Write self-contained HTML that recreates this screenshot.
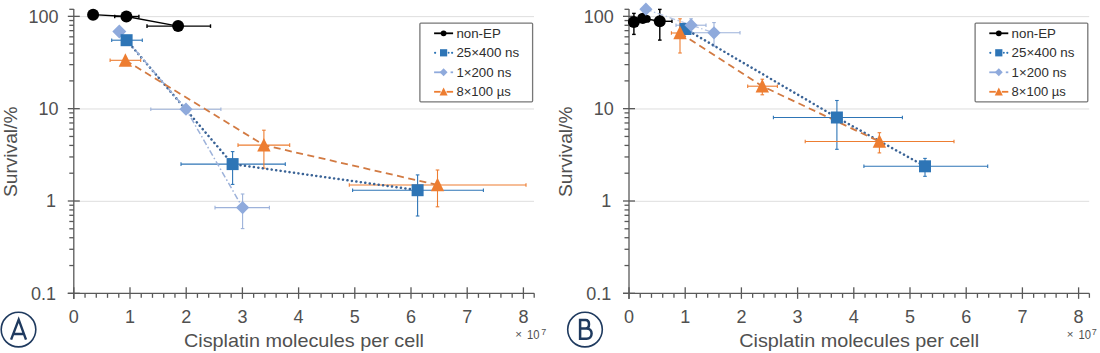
<!DOCTYPE html>
<html><head><meta charset="utf-8"><style>
html,body{margin:0;padding:0;background:#fff;width:1100px;height:353px;overflow:hidden}
svg{display:block;font-family:"Liberation Sans",sans-serif}
</style></head><body>
<svg width="1100" height="353" viewBox="0 0 1100 353">
<line x1="74.80" y1="16.64" x2="534.00" y2="16.64" stroke="#dedede" stroke-width="1"/>
<line x1="74.80" y1="108.97" x2="534.00" y2="108.97" stroke="#dedede" stroke-width="1"/>
<line x1="74.80" y1="201.30" x2="534.00" y2="201.30" stroke="#dedede" stroke-width="1"/>
<line x1="73.80" y1="9.1" x2="73.80" y2="299" stroke="#595959" stroke-width="1.3"/>
<line x1="69.30" y1="9.3" x2="73.80" y2="9.3" stroke="#595959" stroke-width="1.3"/>
<line x1="69.30" y1="265.54" x2="73.80" y2="265.54" stroke="#595959" stroke-width="1.3"/>
<line x1="69.30" y1="249.28" x2="73.80" y2="249.28" stroke="#595959" stroke-width="1.3"/>
<line x1="69.30" y1="237.74" x2="73.80" y2="237.74" stroke="#595959" stroke-width="1.3"/>
<line x1="69.30" y1="228.79" x2="73.80" y2="228.79" stroke="#595959" stroke-width="1.3"/>
<line x1="69.30" y1="221.48" x2="73.80" y2="221.48" stroke="#595959" stroke-width="1.3"/>
<line x1="69.30" y1="215.30" x2="73.80" y2="215.30" stroke="#595959" stroke-width="1.3"/>
<line x1="69.30" y1="209.95" x2="73.80" y2="209.95" stroke="#595959" stroke-width="1.3"/>
<line x1="69.30" y1="205.22" x2="73.80" y2="205.22" stroke="#595959" stroke-width="1.3"/>
<line x1="69.30" y1="173.21" x2="73.80" y2="173.21" stroke="#595959" stroke-width="1.3"/>
<line x1="69.30" y1="156.95" x2="73.80" y2="156.95" stroke="#595959" stroke-width="1.3"/>
<line x1="69.30" y1="145.41" x2="73.80" y2="145.41" stroke="#595959" stroke-width="1.3"/>
<line x1="69.30" y1="136.46" x2="73.80" y2="136.46" stroke="#595959" stroke-width="1.3"/>
<line x1="69.30" y1="129.15" x2="73.80" y2="129.15" stroke="#595959" stroke-width="1.3"/>
<line x1="69.30" y1="122.97" x2="73.80" y2="122.97" stroke="#595959" stroke-width="1.3"/>
<line x1="69.30" y1="117.62" x2="73.80" y2="117.62" stroke="#595959" stroke-width="1.3"/>
<line x1="69.30" y1="112.89" x2="73.80" y2="112.89" stroke="#595959" stroke-width="1.3"/>
<line x1="69.30" y1="80.88" x2="73.80" y2="80.88" stroke="#595959" stroke-width="1.3"/>
<line x1="69.30" y1="64.62" x2="73.80" y2="64.62" stroke="#595959" stroke-width="1.3"/>
<line x1="69.30" y1="53.08" x2="73.80" y2="53.08" stroke="#595959" stroke-width="1.3"/>
<line x1="69.30" y1="44.13" x2="73.80" y2="44.13" stroke="#595959" stroke-width="1.3"/>
<line x1="69.30" y1="36.82" x2="73.80" y2="36.82" stroke="#595959" stroke-width="1.3"/>
<line x1="69.30" y1="30.64" x2="73.80" y2="30.64" stroke="#595959" stroke-width="1.3"/>
<line x1="69.30" y1="25.29" x2="73.80" y2="25.29" stroke="#595959" stroke-width="1.3"/>
<line x1="69.30" y1="20.56" x2="73.80" y2="20.56" stroke="#595959" stroke-width="1.3"/>
<line x1="67.80" y1="16.34" x2="79.80" y2="16.34" stroke="#595959" stroke-width="1.3"/>
<line x1="67.80" y1="108.67" x2="79.80" y2="108.67" stroke="#595959" stroke-width="1.3"/>
<line x1="67.80" y1="201.00" x2="79.80" y2="201.00" stroke="#595959" stroke-width="1.3"/>
<line x1="67.80" y1="293.33" x2="79.80" y2="293.33" stroke="#595959" stroke-width="1.3"/>
<line x1="67.80" y1="293.33" x2="534.20" y2="293.33" stroke="#595959" stroke-width="1.3"/>
<line x1="73.80" y1="287.33" x2="73.80" y2="298.83" stroke="#595959" stroke-width="1.3"/>
<line x1="85.04" y1="293.33" x2="85.04" y2="297.83" stroke="#595959" stroke-width="1.3"/>
<line x1="96.28" y1="293.33" x2="96.28" y2="297.83" stroke="#595959" stroke-width="1.3"/>
<line x1="107.52" y1="293.33" x2="107.52" y2="297.83" stroke="#595959" stroke-width="1.3"/>
<line x1="118.76" y1="293.33" x2="118.76" y2="297.83" stroke="#595959" stroke-width="1.3"/>
<line x1="130.00" y1="287.33" x2="130.00" y2="298.83" stroke="#595959" stroke-width="1.3"/>
<line x1="141.24" y1="293.33" x2="141.24" y2="297.83" stroke="#595959" stroke-width="1.3"/>
<line x1="152.48" y1="293.33" x2="152.48" y2="297.83" stroke="#595959" stroke-width="1.3"/>
<line x1="163.72" y1="293.33" x2="163.72" y2="297.83" stroke="#595959" stroke-width="1.3"/>
<line x1="174.96" y1="293.33" x2="174.96" y2="297.83" stroke="#595959" stroke-width="1.3"/>
<line x1="186.20" y1="287.33" x2="186.20" y2="298.83" stroke="#595959" stroke-width="1.3"/>
<line x1="197.44" y1="293.33" x2="197.44" y2="297.83" stroke="#595959" stroke-width="1.3"/>
<line x1="208.68" y1="293.33" x2="208.68" y2="297.83" stroke="#595959" stroke-width="1.3"/>
<line x1="219.92" y1="293.33" x2="219.92" y2="297.83" stroke="#595959" stroke-width="1.3"/>
<line x1="231.16" y1="293.33" x2="231.16" y2="297.83" stroke="#595959" stroke-width="1.3"/>
<line x1="242.40" y1="287.33" x2="242.40" y2="298.83" stroke="#595959" stroke-width="1.3"/>
<line x1="253.64" y1="293.33" x2="253.64" y2="297.83" stroke="#595959" stroke-width="1.3"/>
<line x1="264.88" y1="293.33" x2="264.88" y2="297.83" stroke="#595959" stroke-width="1.3"/>
<line x1="276.12" y1="293.33" x2="276.12" y2="297.83" stroke="#595959" stroke-width="1.3"/>
<line x1="287.36" y1="293.33" x2="287.36" y2="297.83" stroke="#595959" stroke-width="1.3"/>
<line x1="298.60" y1="287.33" x2="298.60" y2="298.83" stroke="#595959" stroke-width="1.3"/>
<line x1="309.84" y1="293.33" x2="309.84" y2="297.83" stroke="#595959" stroke-width="1.3"/>
<line x1="321.08" y1="293.33" x2="321.08" y2="297.83" stroke="#595959" stroke-width="1.3"/>
<line x1="332.32" y1="293.33" x2="332.32" y2="297.83" stroke="#595959" stroke-width="1.3"/>
<line x1="343.56" y1="293.33" x2="343.56" y2="297.83" stroke="#595959" stroke-width="1.3"/>
<line x1="354.80" y1="287.33" x2="354.80" y2="298.83" stroke="#595959" stroke-width="1.3"/>
<line x1="366.04" y1="293.33" x2="366.04" y2="297.83" stroke="#595959" stroke-width="1.3"/>
<line x1="377.28" y1="293.33" x2="377.28" y2="297.83" stroke="#595959" stroke-width="1.3"/>
<line x1="388.52" y1="293.33" x2="388.52" y2="297.83" stroke="#595959" stroke-width="1.3"/>
<line x1="399.76" y1="293.33" x2="399.76" y2="297.83" stroke="#595959" stroke-width="1.3"/>
<line x1="411.00" y1="287.33" x2="411.00" y2="298.83" stroke="#595959" stroke-width="1.3"/>
<line x1="422.24" y1="293.33" x2="422.24" y2="297.83" stroke="#595959" stroke-width="1.3"/>
<line x1="433.48" y1="293.33" x2="433.48" y2="297.83" stroke="#595959" stroke-width="1.3"/>
<line x1="444.72" y1="293.33" x2="444.72" y2="297.83" stroke="#595959" stroke-width="1.3"/>
<line x1="455.96" y1="293.33" x2="455.96" y2="297.83" stroke="#595959" stroke-width="1.3"/>
<line x1="467.20" y1="287.33" x2="467.20" y2="298.83" stroke="#595959" stroke-width="1.3"/>
<line x1="478.44" y1="293.33" x2="478.44" y2="297.83" stroke="#595959" stroke-width="1.3"/>
<line x1="489.68" y1="293.33" x2="489.68" y2="297.83" stroke="#595959" stroke-width="1.3"/>
<line x1="500.92" y1="293.33" x2="500.92" y2="297.83" stroke="#595959" stroke-width="1.3"/>
<line x1="512.16" y1="293.33" x2="512.16" y2="297.83" stroke="#595959" stroke-width="1.3"/>
<line x1="523.40" y1="287.33" x2="523.40" y2="298.83" stroke="#595959" stroke-width="1.3"/>
<line x1="534.20" y1="293.33" x2="534.20" y2="297.83" stroke="#595959" stroke-width="1.3"/>
<text x="58.50" y="22.64" text-anchor="end" font-size="18" fill="#505050">100</text>
<text x="58.50" y="114.97" text-anchor="end" font-size="18" fill="#505050">10</text>
<text x="56.00" y="207.30" text-anchor="end" font-size="18" fill="#505050">1</text>
<text x="56.00" y="299.63" text-anchor="end" font-size="18" fill="#505050">0.1</text>
<text x="73.80" y="322.5" text-anchor="middle" font-size="18" fill="#505050">0</text>
<text x="130.00" y="322.5" text-anchor="middle" font-size="18" fill="#505050">1</text>
<text x="186.20" y="322.5" text-anchor="middle" font-size="18" fill="#505050">2</text>
<text x="242.40" y="322.5" text-anchor="middle" font-size="18" fill="#505050">3</text>
<text x="298.60" y="322.5" text-anchor="middle" font-size="18" fill="#505050">4</text>
<text x="354.80" y="322.5" text-anchor="middle" font-size="18" fill="#505050">5</text>
<text x="411.00" y="322.5" text-anchor="middle" font-size="18" fill="#505050">6</text>
<text x="467.20" y="322.5" text-anchor="middle" font-size="18" fill="#505050">7</text>
<text x="523.40" y="322.5" text-anchor="middle" font-size="18" fill="#505050">8</text>
<text x="184.00" y="347" font-size="19" fill="#505050" textLength="240" lengthAdjust="spacingAndGlyphs">Cisplatin molecules per cell</text>
<text x="515.30" y="338.2" font-size="11.5" fill="#505050">×</text>
<text x="527.00" y="339.2" font-size="13.2" fill="#505050" textLength="12.5" lengthAdjust="spacingAndGlyphs">10</text>
<text x="541.20" y="335" font-size="9" fill="#505050">7</text>
<text transform="translate(16.60,151.8) rotate(-90)" text-anchor="middle" font-size="17.5" fill="#505050" textLength="90.5" lengthAdjust="spacingAndGlyphs">Survival/%</text>
<circle cx="18.5" cy="329.6" r="17.3" fill="none" stroke="#1f3a5f" stroke-width="1.6"/>
<path d="M11.1,339.6 L18.7,319.6 L26.0,339.6 M14.0,334 H23.4" fill="none" stroke="#1f3a5f" stroke-width="2.4" stroke-linejoin="miter" stroke-miterlimit="10"/>
<line x1="114.70" y1="16.50" x2="138.90" y2="16.50" stroke="#000000" stroke-width="1.4"/>
<line x1="114.70" y1="14.70" x2="114.70" y2="18.30" stroke="#000000" stroke-width="1.4"/>
<line x1="138.90" y1="14.70" x2="138.90" y2="18.30" stroke="#000000" stroke-width="1.4"/>
<line x1="147.00" y1="26.10" x2="210.50" y2="26.10" stroke="#000000" stroke-width="1.4"/>
<line x1="147.00" y1="24.30" x2="147.00" y2="27.90" stroke="#000000" stroke-width="1.4"/>
<line x1="210.50" y1="24.30" x2="210.50" y2="27.90" stroke="#000000" stroke-width="1.4"/>
<line x1="111.70" y1="40.20" x2="142.30" y2="40.20" stroke="#2e75b6" stroke-width="1.1"/>
<line x1="111.70" y1="38.40" x2="111.70" y2="42.00" stroke="#2e75b6" stroke-width="1.1"/>
<line x1="142.30" y1="38.40" x2="142.30" y2="42.00" stroke="#2e75b6" stroke-width="1.1"/>
<line x1="181.00" y1="164.10" x2="285.30" y2="164.10" stroke="#2e75b6" stroke-width="1.1"/>
<line x1="181.00" y1="162.30" x2="181.00" y2="165.90" stroke="#2e75b6" stroke-width="1.1"/>
<line x1="285.30" y1="162.30" x2="285.30" y2="165.90" stroke="#2e75b6" stroke-width="1.1"/>
<line x1="232.60" y1="151.60" x2="232.60" y2="184.40" stroke="#2e75b6" stroke-width="1.1"/>
<line x1="230.80" y1="151.60" x2="234.40" y2="151.60" stroke="#2e75b6" stroke-width="1.1"/>
<line x1="230.80" y1="184.40" x2="234.40" y2="184.40" stroke="#2e75b6" stroke-width="1.1"/>
<line x1="352.60" y1="190.20" x2="483.40" y2="190.20" stroke="#2e75b6" stroke-width="1.1"/>
<line x1="352.60" y1="188.40" x2="352.60" y2="192.00" stroke="#2e75b6" stroke-width="1.1"/>
<line x1="483.40" y1="188.40" x2="483.40" y2="192.00" stroke="#2e75b6" stroke-width="1.1"/>
<line x1="417.60" y1="174.90" x2="417.60" y2="216.00" stroke="#2e75b6" stroke-width="1.1"/>
<line x1="415.80" y1="174.90" x2="419.40" y2="174.90" stroke="#2e75b6" stroke-width="1.1"/>
<line x1="415.80" y1="216.00" x2="419.40" y2="216.00" stroke="#2e75b6" stroke-width="1.1"/>
<line x1="150.80" y1="109.20" x2="220.90" y2="109.20" stroke="#9db2da" stroke-width="1.1"/>
<line x1="150.80" y1="107.40" x2="150.80" y2="111.00" stroke="#9db2da" stroke-width="1.1"/>
<line x1="220.90" y1="107.40" x2="220.90" y2="111.00" stroke="#9db2da" stroke-width="1.1"/>
<line x1="215.00" y1="207.60" x2="269.40" y2="207.60" stroke="#9db2da" stroke-width="1.1"/>
<line x1="215.00" y1="205.80" x2="215.00" y2="209.40" stroke="#9db2da" stroke-width="1.1"/>
<line x1="269.40" y1="205.80" x2="269.40" y2="209.40" stroke="#9db2da" stroke-width="1.1"/>
<line x1="242.60" y1="194.00" x2="242.60" y2="228.60" stroke="#9db2da" stroke-width="1.1"/>
<line x1="240.80" y1="194.00" x2="244.40" y2="194.00" stroke="#9db2da" stroke-width="1.1"/>
<line x1="240.80" y1="228.60" x2="244.40" y2="228.60" stroke="#9db2da" stroke-width="1.1"/>
<line x1="110.10" y1="60.30" x2="140.70" y2="60.30" stroke="#ed7d31" stroke-width="1.1"/>
<line x1="110.10" y1="58.50" x2="110.10" y2="62.10" stroke="#ed7d31" stroke-width="1.1"/>
<line x1="140.70" y1="58.50" x2="140.70" y2="62.10" stroke="#ed7d31" stroke-width="1.1"/>
<line x1="238.00" y1="145.10" x2="289.70" y2="145.10" stroke="#ed7d31" stroke-width="1.1"/>
<line x1="238.00" y1="143.30" x2="238.00" y2="146.90" stroke="#ed7d31" stroke-width="1.1"/>
<line x1="289.70" y1="143.30" x2="289.70" y2="146.90" stroke="#ed7d31" stroke-width="1.1"/>
<line x1="263.90" y1="130.20" x2="263.90" y2="168.20" stroke="#ed7d31" stroke-width="1.1"/>
<line x1="262.10" y1="130.20" x2="265.70" y2="130.20" stroke="#ed7d31" stroke-width="1.1"/>
<line x1="262.10" y1="168.20" x2="265.70" y2="168.20" stroke="#ed7d31" stroke-width="1.1"/>
<line x1="349.30" y1="185.00" x2="526.00" y2="185.00" stroke="#ed7d31" stroke-width="1.1"/>
<line x1="349.30" y1="183.20" x2="349.30" y2="186.80" stroke="#ed7d31" stroke-width="1.1"/>
<line x1="526.00" y1="183.20" x2="526.00" y2="186.80" stroke="#ed7d31" stroke-width="1.1"/>
<line x1="437.50" y1="170.00" x2="437.50" y2="206.80" stroke="#ed7d31" stroke-width="1.1"/>
<line x1="435.70" y1="170.00" x2="439.30" y2="170.00" stroke="#ed7d31" stroke-width="1.1"/>
<line x1="435.70" y1="206.80" x2="439.30" y2="206.80" stroke="#ed7d31" stroke-width="1.1"/>
<polyline points="93.10,14.70 126.40,16.50 178.10,26.10" fill="none" stroke="#000000" stroke-width="1.3"/>
<polyline points="126.60,40.20 232.60,164.10 417.60,190.20" fill="none" stroke="#3a6396" stroke-width="2.5" stroke-dasharray="0.1 4.4" stroke-linecap="round"/>
<polyline points="119.30,31.50 186.00,109.20 242.60,207.60" fill="none" stroke="#9db2da" stroke-width="1.5" stroke-dasharray="6 2.5 1.5 2.5"/>
<polyline points="125.40,60.30 263.90,145.10 437.50,185.00" fill="none" stroke="#d27a42" stroke-width="1.8" stroke-dasharray="7 4.5"/>
<circle cx="93.10" cy="14.70" r="6.00" fill="#000000"/>
<circle cx="126.40" cy="16.50" r="6.00" fill="#000000"/>
<circle cx="178.10" cy="26.10" r="6.00" fill="#000000"/>
<polygon points="119.30,24.50 126.30,31.50 119.30,38.50 112.30,31.50" fill="#8faadc"/>
<polygon points="186.00,102.60 192.60,109.20 186.00,115.80 179.40,109.20" fill="#8faadc"/>
<polygon points="242.60,201.00 249.20,207.60 242.60,214.20 236.00,207.60" fill="#8faadc"/>
<rect x="120.60" y="34.20" width="12.00" height="12.00" fill="#2e75b6"/>
<rect x="226.60" y="158.10" width="12.00" height="12.00" fill="#2e75b6"/>
<rect x="411.60" y="184.20" width="12.00" height="12.00" fill="#2e75b6"/>
<polygon points="125.40,53.13 132.10,66.66 118.70,66.66" fill="#ed7d31"/>
<polygon points="263.90,137.93 270.60,151.47 257.20,151.47" fill="#ed7d31"/>
<polygon points="437.50,177.83 444.20,191.37 430.80,191.37" fill="#ed7d31"/>
<rect x="419.90" y="23.10" width="112.7" height="78.7" rx="1" fill="#fff" stroke="#777" stroke-width="1.3"/>
<line x1="434.10" y1="33.30" x2="453.10" y2="33.30" stroke="#000000" stroke-width="1.8"/>
<circle cx="443.60" cy="33.30" r="2.88" fill="#000000"/>
<text x="456.40" y="37.60" font-size="12.5" fill="#2e2e2e" textLength="44.4" lengthAdjust="spacingAndGlyphs">non-EP</text>
<circle cx="435.10" cy="52.80" r="1.1" fill="#2e75b6"/>
<circle cx="452.10" cy="52.80" r="1.1" fill="#2e75b6"/>
<circle cx="448.60" cy="52.80" r="1.0" fill="#2e75b6"/>
<rect x="440.00" y="49.20" width="7.20" height="7.20" fill="#2e75b6"/>
<text x="456.40" y="57.10" font-size="12.5" fill="#2e2e2e" textLength="62.8" lengthAdjust="spacingAndGlyphs">25×400 ns</text>
<line x1="434.10" y1="72.30" x2="441.10" y2="72.30" stroke="#8faadc" stroke-width="1.8"/>
<line x1="450.60" y1="72.30" x2="453.10" y2="72.30" stroke="#8faadc" stroke-width="1.8"/>
<polygon points="443.60,68.34 447.56,72.30 443.60,76.26 439.64,72.30" fill="#8faadc"/>
<text x="456.40" y="76.60" font-size="12.5" fill="#2e2e2e" textLength="54.9" lengthAdjust="spacingAndGlyphs">1×200 ns</text>
<line x1="434.10" y1="91.80" x2="440.60" y2="91.80" stroke="#ed7d31" stroke-width="1.8"/>
<line x1="446.60" y1="91.80" x2="453.10" y2="91.80" stroke="#ed7d31" stroke-width="1.8"/>
<polygon points="443.60,87.50 447.62,95.62 439.58,95.62" fill="#ed7d31"/>
<text x="456.40" y="96.10" font-size="12.5" fill="#2e2e2e" textLength="54.3" lengthAdjust="spacingAndGlyphs">8×100 µs</text>
<line x1="630.00" y1="16.64" x2="1089.20" y2="16.64" stroke="#dedede" stroke-width="1"/>
<line x1="630.00" y1="108.97" x2="1089.20" y2="108.97" stroke="#dedede" stroke-width="1"/>
<line x1="630.00" y1="201.30" x2="1089.20" y2="201.30" stroke="#dedede" stroke-width="1"/>
<line x1="629.00" y1="9.1" x2="629.00" y2="299" stroke="#595959" stroke-width="1.3"/>
<line x1="624.50" y1="9.3" x2="629.00" y2="9.3" stroke="#595959" stroke-width="1.3"/>
<line x1="624.50" y1="265.54" x2="629.00" y2="265.54" stroke="#595959" stroke-width="1.3"/>
<line x1="624.50" y1="249.28" x2="629.00" y2="249.28" stroke="#595959" stroke-width="1.3"/>
<line x1="624.50" y1="237.74" x2="629.00" y2="237.74" stroke="#595959" stroke-width="1.3"/>
<line x1="624.50" y1="228.79" x2="629.00" y2="228.79" stroke="#595959" stroke-width="1.3"/>
<line x1="624.50" y1="221.48" x2="629.00" y2="221.48" stroke="#595959" stroke-width="1.3"/>
<line x1="624.50" y1="215.30" x2="629.00" y2="215.30" stroke="#595959" stroke-width="1.3"/>
<line x1="624.50" y1="209.95" x2="629.00" y2="209.95" stroke="#595959" stroke-width="1.3"/>
<line x1="624.50" y1="205.22" x2="629.00" y2="205.22" stroke="#595959" stroke-width="1.3"/>
<line x1="624.50" y1="173.21" x2="629.00" y2="173.21" stroke="#595959" stroke-width="1.3"/>
<line x1="624.50" y1="156.95" x2="629.00" y2="156.95" stroke="#595959" stroke-width="1.3"/>
<line x1="624.50" y1="145.41" x2="629.00" y2="145.41" stroke="#595959" stroke-width="1.3"/>
<line x1="624.50" y1="136.46" x2="629.00" y2="136.46" stroke="#595959" stroke-width="1.3"/>
<line x1="624.50" y1="129.15" x2="629.00" y2="129.15" stroke="#595959" stroke-width="1.3"/>
<line x1="624.50" y1="122.97" x2="629.00" y2="122.97" stroke="#595959" stroke-width="1.3"/>
<line x1="624.50" y1="117.62" x2="629.00" y2="117.62" stroke="#595959" stroke-width="1.3"/>
<line x1="624.50" y1="112.89" x2="629.00" y2="112.89" stroke="#595959" stroke-width="1.3"/>
<line x1="624.50" y1="80.88" x2="629.00" y2="80.88" stroke="#595959" stroke-width="1.3"/>
<line x1="624.50" y1="64.62" x2="629.00" y2="64.62" stroke="#595959" stroke-width="1.3"/>
<line x1="624.50" y1="53.08" x2="629.00" y2="53.08" stroke="#595959" stroke-width="1.3"/>
<line x1="624.50" y1="44.13" x2="629.00" y2="44.13" stroke="#595959" stroke-width="1.3"/>
<line x1="624.50" y1="36.82" x2="629.00" y2="36.82" stroke="#595959" stroke-width="1.3"/>
<line x1="624.50" y1="30.64" x2="629.00" y2="30.64" stroke="#595959" stroke-width="1.3"/>
<line x1="624.50" y1="25.29" x2="629.00" y2="25.29" stroke="#595959" stroke-width="1.3"/>
<line x1="624.50" y1="20.56" x2="629.00" y2="20.56" stroke="#595959" stroke-width="1.3"/>
<line x1="623.00" y1="16.34" x2="635.00" y2="16.34" stroke="#595959" stroke-width="1.3"/>
<line x1="623.00" y1="108.67" x2="635.00" y2="108.67" stroke="#595959" stroke-width="1.3"/>
<line x1="623.00" y1="201.00" x2="635.00" y2="201.00" stroke="#595959" stroke-width="1.3"/>
<line x1="623.00" y1="293.33" x2="635.00" y2="293.33" stroke="#595959" stroke-width="1.3"/>
<line x1="623.00" y1="293.33" x2="1089.40" y2="293.33" stroke="#595959" stroke-width="1.3"/>
<line x1="629.00" y1="287.33" x2="629.00" y2="298.83" stroke="#595959" stroke-width="1.3"/>
<line x1="640.24" y1="293.33" x2="640.24" y2="297.83" stroke="#595959" stroke-width="1.3"/>
<line x1="651.48" y1="293.33" x2="651.48" y2="297.83" stroke="#595959" stroke-width="1.3"/>
<line x1="662.72" y1="293.33" x2="662.72" y2="297.83" stroke="#595959" stroke-width="1.3"/>
<line x1="673.96" y1="293.33" x2="673.96" y2="297.83" stroke="#595959" stroke-width="1.3"/>
<line x1="685.20" y1="287.33" x2="685.20" y2="298.83" stroke="#595959" stroke-width="1.3"/>
<line x1="696.44" y1="293.33" x2="696.44" y2="297.83" stroke="#595959" stroke-width="1.3"/>
<line x1="707.68" y1="293.33" x2="707.68" y2="297.83" stroke="#595959" stroke-width="1.3"/>
<line x1="718.92" y1="293.33" x2="718.92" y2="297.83" stroke="#595959" stroke-width="1.3"/>
<line x1="730.16" y1="293.33" x2="730.16" y2="297.83" stroke="#595959" stroke-width="1.3"/>
<line x1="741.40" y1="287.33" x2="741.40" y2="298.83" stroke="#595959" stroke-width="1.3"/>
<line x1="752.64" y1="293.33" x2="752.64" y2="297.83" stroke="#595959" stroke-width="1.3"/>
<line x1="763.88" y1="293.33" x2="763.88" y2="297.83" stroke="#595959" stroke-width="1.3"/>
<line x1="775.12" y1="293.33" x2="775.12" y2="297.83" stroke="#595959" stroke-width="1.3"/>
<line x1="786.36" y1="293.33" x2="786.36" y2="297.83" stroke="#595959" stroke-width="1.3"/>
<line x1="797.60" y1="287.33" x2="797.60" y2="298.83" stroke="#595959" stroke-width="1.3"/>
<line x1="808.84" y1="293.33" x2="808.84" y2="297.83" stroke="#595959" stroke-width="1.3"/>
<line x1="820.08" y1="293.33" x2="820.08" y2="297.83" stroke="#595959" stroke-width="1.3"/>
<line x1="831.32" y1="293.33" x2="831.32" y2="297.83" stroke="#595959" stroke-width="1.3"/>
<line x1="842.56" y1="293.33" x2="842.56" y2="297.83" stroke="#595959" stroke-width="1.3"/>
<line x1="853.80" y1="287.33" x2="853.80" y2="298.83" stroke="#595959" stroke-width="1.3"/>
<line x1="865.04" y1="293.33" x2="865.04" y2="297.83" stroke="#595959" stroke-width="1.3"/>
<line x1="876.28" y1="293.33" x2="876.28" y2="297.83" stroke="#595959" stroke-width="1.3"/>
<line x1="887.52" y1="293.33" x2="887.52" y2="297.83" stroke="#595959" stroke-width="1.3"/>
<line x1="898.76" y1="293.33" x2="898.76" y2="297.83" stroke="#595959" stroke-width="1.3"/>
<line x1="910.00" y1="287.33" x2="910.00" y2="298.83" stroke="#595959" stroke-width="1.3"/>
<line x1="921.24" y1="293.33" x2="921.24" y2="297.83" stroke="#595959" stroke-width="1.3"/>
<line x1="932.48" y1="293.33" x2="932.48" y2="297.83" stroke="#595959" stroke-width="1.3"/>
<line x1="943.72" y1="293.33" x2="943.72" y2="297.83" stroke="#595959" stroke-width="1.3"/>
<line x1="954.96" y1="293.33" x2="954.96" y2="297.83" stroke="#595959" stroke-width="1.3"/>
<line x1="966.20" y1="287.33" x2="966.20" y2="298.83" stroke="#595959" stroke-width="1.3"/>
<line x1="977.44" y1="293.33" x2="977.44" y2="297.83" stroke="#595959" stroke-width="1.3"/>
<line x1="988.68" y1="293.33" x2="988.68" y2="297.83" stroke="#595959" stroke-width="1.3"/>
<line x1="999.92" y1="293.33" x2="999.92" y2="297.83" stroke="#595959" stroke-width="1.3"/>
<line x1="1011.16" y1="293.33" x2="1011.16" y2="297.83" stroke="#595959" stroke-width="1.3"/>
<line x1="1022.40" y1="287.33" x2="1022.40" y2="298.83" stroke="#595959" stroke-width="1.3"/>
<line x1="1033.64" y1="293.33" x2="1033.64" y2="297.83" stroke="#595959" stroke-width="1.3"/>
<line x1="1044.88" y1="293.33" x2="1044.88" y2="297.83" stroke="#595959" stroke-width="1.3"/>
<line x1="1056.12" y1="293.33" x2="1056.12" y2="297.83" stroke="#595959" stroke-width="1.3"/>
<line x1="1067.36" y1="293.33" x2="1067.36" y2="297.83" stroke="#595959" stroke-width="1.3"/>
<line x1="1078.60" y1="287.33" x2="1078.60" y2="298.83" stroke="#595959" stroke-width="1.3"/>
<line x1="1089.40" y1="293.33" x2="1089.40" y2="297.83" stroke="#595959" stroke-width="1.3"/>
<text x="613.70" y="22.64" text-anchor="end" font-size="18" fill="#505050">100</text>
<text x="613.70" y="114.97" text-anchor="end" font-size="18" fill="#505050">10</text>
<text x="611.20" y="207.30" text-anchor="end" font-size="18" fill="#505050">1</text>
<text x="611.20" y="299.63" text-anchor="end" font-size="18" fill="#505050">0.1</text>
<text x="629.00" y="322.5" text-anchor="middle" font-size="18" fill="#505050">0</text>
<text x="685.20" y="322.5" text-anchor="middle" font-size="18" fill="#505050">1</text>
<text x="741.40" y="322.5" text-anchor="middle" font-size="18" fill="#505050">2</text>
<text x="797.60" y="322.5" text-anchor="middle" font-size="18" fill="#505050">3</text>
<text x="853.80" y="322.5" text-anchor="middle" font-size="18" fill="#505050">4</text>
<text x="910.00" y="322.5" text-anchor="middle" font-size="18" fill="#505050">5</text>
<text x="966.20" y="322.5" text-anchor="middle" font-size="18" fill="#505050">6</text>
<text x="1022.40" y="322.5" text-anchor="middle" font-size="18" fill="#505050">7</text>
<text x="1078.60" y="322.5" text-anchor="middle" font-size="18" fill="#505050">8</text>
<text x="739.20" y="347" font-size="19" fill="#505050" textLength="240" lengthAdjust="spacingAndGlyphs">Cisplatin molecules per cell</text>
<text x="1066.80" y="338.2" font-size="11.5" fill="#505050">×</text>
<text x="1078.50" y="339.2" font-size="13.2" fill="#505050" textLength="12.5" lengthAdjust="spacingAndGlyphs">10</text>
<text x="1091.80" y="335" font-size="9" fill="#505050">7</text>
<text transform="translate(571.80,151.8) rotate(-90)" text-anchor="middle" font-size="17.5" fill="#505050" textLength="90.5" lengthAdjust="spacingAndGlyphs">Survival/%</text>
<circle cx="585" cy="329.6" r="17.3" fill="none" stroke="#1f3a5f" stroke-width="1.6"/>
<path d="M580.1,340 V319.95 H585.5 C587.8,319.95 589,321.8 589,324.2 C589,326.6 587.8,328.5 585.5,328.5 H580.1 M585.5,328.5 H586.6 C589.6,328.5 591.6,330.6 591.6,333.6 C591.6,336.7 589.6,338.75 586.6,338.75 H580.1" fill="none" stroke="#1f3a5f" stroke-width="2.5"/>
<line x1="633.90" y1="13.40" x2="633.90" y2="34.40" stroke="#000000" stroke-width="1.4"/>
<line x1="632.10" y1="13.40" x2="635.70" y2="13.40" stroke="#000000" stroke-width="1.4"/>
<line x1="632.10" y1="34.40" x2="635.70" y2="34.40" stroke="#000000" stroke-width="1.4"/>
<line x1="660.00" y1="21.30" x2="672.00" y2="21.30" stroke="#000000" stroke-width="1.4"/>
<line x1="660.00" y1="19.50" x2="660.00" y2="23.10" stroke="#000000" stroke-width="1.4"/>
<line x1="672.00" y1="19.50" x2="672.00" y2="23.10" stroke="#000000" stroke-width="1.4"/>
<line x1="659.80" y1="9.40" x2="659.80" y2="40.10" stroke="#000000" stroke-width="1.4"/>
<line x1="658.00" y1="9.40" x2="661.60" y2="9.40" stroke="#000000" stroke-width="1.4"/>
<line x1="658.00" y1="40.10" x2="661.60" y2="40.10" stroke="#000000" stroke-width="1.4"/>
<line x1="773.40" y1="117.50" x2="902.40" y2="117.50" stroke="#2e75b6" stroke-width="1.1"/>
<line x1="773.40" y1="115.70" x2="773.40" y2="119.30" stroke="#2e75b6" stroke-width="1.1"/>
<line x1="902.40" y1="115.70" x2="902.40" y2="119.30" stroke="#2e75b6" stroke-width="1.1"/>
<line x1="836.90" y1="100.50" x2="836.90" y2="149.30" stroke="#2e75b6" stroke-width="1.1"/>
<line x1="835.10" y1="100.50" x2="838.70" y2="100.50" stroke="#2e75b6" stroke-width="1.1"/>
<line x1="835.10" y1="149.30" x2="838.70" y2="149.30" stroke="#2e75b6" stroke-width="1.1"/>
<line x1="863.90" y1="166.30" x2="987.70" y2="166.30" stroke="#2e75b6" stroke-width="1.1"/>
<line x1="863.90" y1="164.50" x2="863.90" y2="168.10" stroke="#2e75b6" stroke-width="1.1"/>
<line x1="987.70" y1="164.50" x2="987.70" y2="168.10" stroke="#2e75b6" stroke-width="1.1"/>
<line x1="925.00" y1="158.40" x2="925.00" y2="176.30" stroke="#2e75b6" stroke-width="1.1"/>
<line x1="923.20" y1="158.40" x2="926.80" y2="158.40" stroke="#2e75b6" stroke-width="1.1"/>
<line x1="923.20" y1="176.30" x2="926.80" y2="176.30" stroke="#2e75b6" stroke-width="1.1"/>
<line x1="676.00" y1="25.20" x2="706.00" y2="25.20" stroke="#9db2da" stroke-width="1.1"/>
<line x1="676.00" y1="23.40" x2="676.00" y2="27.00" stroke="#9db2da" stroke-width="1.1"/>
<line x1="706.00" y1="23.40" x2="706.00" y2="27.00" stroke="#9db2da" stroke-width="1.1"/>
<line x1="691.10" y1="18.80" x2="691.10" y2="32.00" stroke="#9db2da" stroke-width="1.1"/>
<line x1="689.30" y1="18.80" x2="692.90" y2="18.80" stroke="#9db2da" stroke-width="1.1"/>
<line x1="689.30" y1="32.00" x2="692.90" y2="32.00" stroke="#9db2da" stroke-width="1.1"/>
<line x1="690.00" y1="32.80" x2="740.00" y2="32.80" stroke="#9db2da" stroke-width="1.1"/>
<line x1="690.00" y1="31.00" x2="690.00" y2="34.60" stroke="#9db2da" stroke-width="1.1"/>
<line x1="740.00" y1="31.00" x2="740.00" y2="34.60" stroke="#9db2da" stroke-width="1.1"/>
<line x1="714.00" y1="22.60" x2="714.00" y2="46.20" stroke="#9db2da" stroke-width="1.1"/>
<line x1="712.20" y1="22.60" x2="715.80" y2="22.60" stroke="#9db2da" stroke-width="1.1"/>
<line x1="712.20" y1="46.20" x2="715.80" y2="46.20" stroke="#9db2da" stroke-width="1.1"/>
<line x1="671.40" y1="33.00" x2="690.00" y2="33.00" stroke="#ed7d31" stroke-width="1.1"/>
<line x1="671.40" y1="31.20" x2="671.40" y2="34.80" stroke="#ed7d31" stroke-width="1.1"/>
<line x1="690.00" y1="31.20" x2="690.00" y2="34.80" stroke="#ed7d31" stroke-width="1.1"/>
<line x1="680.00" y1="18.80" x2="680.00" y2="53.00" stroke="#ed7d31" stroke-width="1.1"/>
<line x1="678.20" y1="18.80" x2="681.80" y2="18.80" stroke="#ed7d31" stroke-width="1.1"/>
<line x1="678.20" y1="53.00" x2="681.80" y2="53.00" stroke="#ed7d31" stroke-width="1.1"/>
<line x1="747.70" y1="86.20" x2="777.40" y2="86.20" stroke="#ed7d31" stroke-width="1.1"/>
<line x1="747.70" y1="84.40" x2="747.70" y2="88.00" stroke="#ed7d31" stroke-width="1.1"/>
<line x1="777.40" y1="84.40" x2="777.40" y2="88.00" stroke="#ed7d31" stroke-width="1.1"/>
<line x1="762.30" y1="79.20" x2="762.30" y2="94.80" stroke="#ed7d31" stroke-width="1.1"/>
<line x1="760.50" y1="79.20" x2="764.10" y2="79.20" stroke="#ed7d31" stroke-width="1.1"/>
<line x1="760.50" y1="94.80" x2="764.10" y2="94.80" stroke="#ed7d31" stroke-width="1.1"/>
<line x1="805.20" y1="141.50" x2="954.00" y2="141.50" stroke="#ed7d31" stroke-width="1.1"/>
<line x1="805.20" y1="139.70" x2="805.20" y2="143.30" stroke="#ed7d31" stroke-width="1.1"/>
<line x1="954.00" y1="139.70" x2="954.00" y2="143.30" stroke="#ed7d31" stroke-width="1.1"/>
<line x1="879.40" y1="132.70" x2="879.40" y2="152.90" stroke="#ed7d31" stroke-width="1.1"/>
<line x1="877.60" y1="132.70" x2="881.20" y2="132.70" stroke="#ed7d31" stroke-width="1.1"/>
<line x1="877.60" y1="152.90" x2="881.20" y2="152.90" stroke="#ed7d31" stroke-width="1.1"/>
<polyline points="633.90,22.00 642.80,18.30 646.80,18.90 659.80,21.30" fill="none" stroke="#000000" stroke-width="1.5"/>
<polyline points="685.50,29.00 836.90,117.50 925.00,166.30" fill="none" stroke="#3a6396" stroke-width="2.5" stroke-dasharray="0.1 4.4" stroke-linecap="round"/>
<polyline points="645.90,9.20 691.10,25.20 714.00,32.80" fill="none" stroke="#b3c3e3" stroke-width="1.3" stroke-dasharray="6 2.5 1.5 2.5"/>
<polyline points="680.00,33.00 762.30,86.20 879.40,141.50" fill="none" stroke="#d27a42" stroke-width="1.8" stroke-dasharray="7 4.5"/>
<circle cx="633.90" cy="22.00" r="6.00" fill="#000000"/>
<circle cx="642.80" cy="18.30" r="5.58" fill="#000000"/>
<circle cx="646.80" cy="18.90" r="3.96" fill="#000000"/>
<circle cx="659.80" cy="21.30" r="6.00" fill="#000000"/>
<rect x="679.50" y="23.00" width="12.00" height="12.00" fill="#2e75b6"/>
<rect x="830.90" y="111.50" width="12.00" height="12.00" fill="#2e75b6"/>
<rect x="919.00" y="160.30" width="12.00" height="12.00" fill="#2e75b6"/>
<polygon points="645.90,2.60 652.50,9.20 645.90,15.80 639.30,9.20" fill="#8faadc"/>
<polygon points="691.10,18.60 697.70,25.20 691.10,31.80 684.50,25.20" fill="#8faadc"/>
<polygon points="714.00,26.20 720.60,32.80 714.00,39.40 707.40,32.80" fill="#8faadc"/>
<polygon points="680.00,25.83 686.70,39.37 673.30,39.37" fill="#ed7d31"/>
<polygon points="762.30,79.03 769.00,92.56 755.60,92.56" fill="#ed7d31"/>
<polygon points="879.40,134.33 886.10,147.87 872.70,147.87" fill="#ed7d31"/>
<rect x="975.10" y="23.10" width="112.7" height="78.7" rx="1" fill="#fff" stroke="#777" stroke-width="1.3"/>
<line x1="989.30" y1="33.30" x2="1008.30" y2="33.30" stroke="#000000" stroke-width="1.8"/>
<circle cx="998.80" cy="33.30" r="2.88" fill="#000000"/>
<text x="1011.60" y="37.60" font-size="12.5" fill="#2e2e2e" textLength="44.4" lengthAdjust="spacingAndGlyphs">non-EP</text>
<circle cx="990.30" cy="52.80" r="1.1" fill="#2e75b6"/>
<circle cx="1007.30" cy="52.80" r="1.1" fill="#2e75b6"/>
<circle cx="1003.80" cy="52.80" r="1.0" fill="#2e75b6"/>
<rect x="995.20" y="49.20" width="7.20" height="7.20" fill="#2e75b6"/>
<text x="1011.60" y="57.10" font-size="12.5" fill="#2e2e2e" textLength="62.8" lengthAdjust="spacingAndGlyphs">25×400 ns</text>
<line x1="989.30" y1="72.30" x2="996.30" y2="72.30" stroke="#8faadc" stroke-width="1.8"/>
<line x1="1005.80" y1="72.30" x2="1008.30" y2="72.30" stroke="#8faadc" stroke-width="1.8"/>
<polygon points="998.80,68.34 1002.76,72.30 998.80,76.26 994.84,72.30" fill="#8faadc"/>
<text x="1011.60" y="76.60" font-size="12.5" fill="#2e2e2e" textLength="54.9" lengthAdjust="spacingAndGlyphs">1×200 ns</text>
<line x1="989.30" y1="91.80" x2="995.80" y2="91.80" stroke="#ed7d31" stroke-width="1.8"/>
<line x1="1001.80" y1="91.80" x2="1008.30" y2="91.80" stroke="#ed7d31" stroke-width="1.8"/>
<polygon points="998.80,87.50 1002.82,95.62 994.78,95.62" fill="#ed7d31"/>
<text x="1011.60" y="96.10" font-size="12.5" fill="#2e2e2e" textLength="54.3" lengthAdjust="spacingAndGlyphs">8×100 µs</text>
</svg></body></html>
